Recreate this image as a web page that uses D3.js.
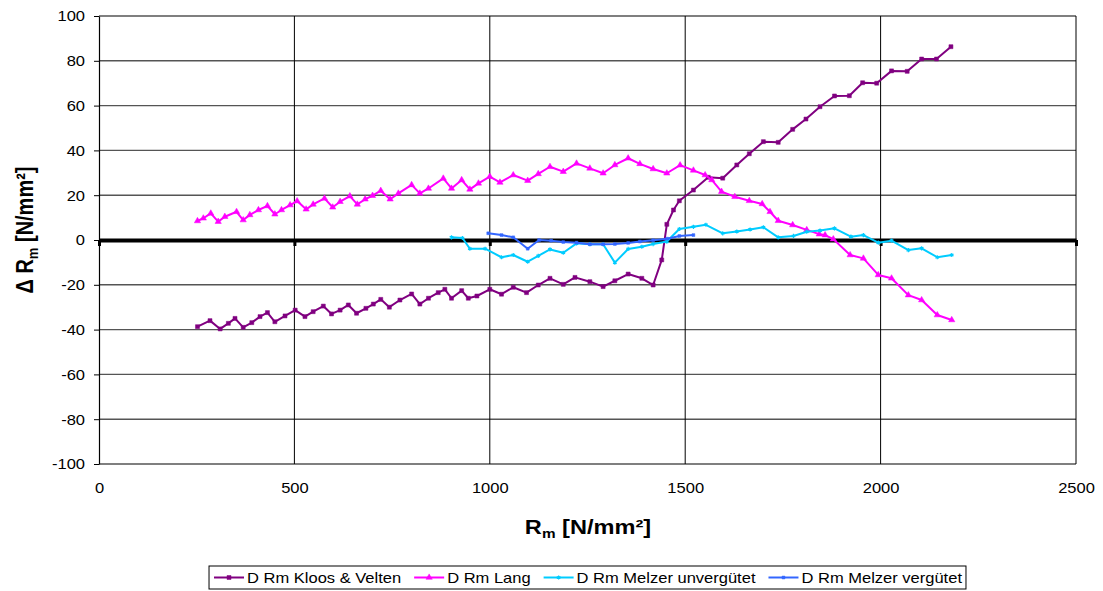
<!DOCTYPE html>
<html>
<head>
<meta charset="utf-8">
<script src="https://cdn.jsdelivr.net/npm/d3@7"></script>
<style>
  body { margin: 0; background: #fff; }
  svg { display: block; font-family: "Liberation Sans", Arial, sans-serif; }
</style>
</head>
<body>
<svg id="chart" width="1103" height="591"></svg>
<script>
// ---- data ----------------------------------------------------------------
const xTickValues = [0, 500, 1000, 1500, 2000, 2500];
const yTickValues = [-100, -80, -60, -40, -20, 0, 20, 40, 60, 80, 100];

const seriesNames = ["D Rm Kloos & Velten", "D Rm Lang", "D Rm Melzer unvergütet", "D Rm Melzer vergütet"];

// Kloos & Velten
const kvRm = [252, 284, 310, 331, 348, 369, 391, 412, 431, 450, 476, 502, 527, 548, 574, 595, 617, 638, 659, 683,
  702, 721, 743, 770, 800, 821, 843, 868, 885, 902, 928, 945, 967, 1000, 1030, 1060, 1094, 1124, 1154, 1188,
  1218, 1256, 1290, 1320, 1354, 1389, 1418, 1440, 1453, 1470, 1485, 1521, 1559, 1596, 1632, 1664, 1700, 1738,
  1775, 1809, 1845, 1882, 1920, 1954, 1990, 2028, 2068, 2105, 2143, 2180];
const kvDelta = [-38.7, -36, -39.7, -37.2, -35, -39, -36.9, -34.2, -32.4, -36.5, -33.9, -31.3, -34.2, -32, -29.5, -33,
  -31.3, -29, -32.7, -30.5, -28.6, -26.5, -30, -26.8, -24.1, -28.6, -26, -23.5, -22, -26, -22.6, -26, -25, -22,
  -24.2, -21.1, -23.5, -20.1, -17.1, -19.8, -16.7, -18.6, -20.8, -18.2, -15.2, -17.1, -20.1, -8.9, 7, 13.4, 17.5,
  22.3, 28, 27.6, 33.5, 38.5, 43.9, 43.6, 49.4, 54, 59.5, 64.3, 64.4, 70.2, 70, 75.5, 75.3, 80.8, 80.8, 86.3];

// Lang
const langRm = [252, 267, 286, 305, 322, 352, 369, 386, 408, 431, 450, 467, 489, 507, 530, 548, 577, 598, 617, 642,
  661, 681, 700, 721, 745, 766, 800, 821, 843, 881, 902, 928, 949, 971, 1000, 1026, 1060, 1097, 1124, 1154, 1188,
  1222, 1256, 1290, 1320, 1354, 1384, 1418, 1453, 1487, 1521, 1551, 1568, 1593, 1627, 1664, 1697, 1717, 1738, 1775,
  1811, 1843, 1858, 1879, 1922, 1956, 1994, 2028, 2071, 2105, 2145, 2182];
const langDelta = [8.5, 9.7, 11.9, 8.2, 10.4, 12.6, 8.9, 11.2, 13.4, 15.2, 11.5, 13.4, 15.6, 17.4, 13.7, 15.9, 18.6,
  14.6, 17.1, 19.6, 15.9, 18.2, 19.8, 22, 18.2, 20.8, 24.6, 20.8, 23, 27.5, 23, 26.8, 22.6, 25.3, 28.3, 25.7, 29,
  26.5, 29.5, 32.7, 30.5, 34.2, 32, 29.8, 33.5, 36.5, 34, 31.7, 29.8, 33.4, 31.1, 29, 26.8, 21.6, 19.3, 17.5, 16.1,
  12.6, 8.6, 6.7, 4.5, 2.6, 2.2, 0.4, -6.7, -8.2, -15.6, -17.1, -24.6, -26.8, -33.5, -35.7];

// Melzer unvergütet
const muRm = [902, 930, 949, 988, 1030, 1060, 1097, 1124, 1154, 1188, 1222, 1256, 1290, 1320, 1354, 1389, 1418, 1453,
  1485, 1521, 1553, 1596, 1632, 1666, 1700, 1738, 1777, 1811, 1845, 1882, 1924, 1956, 1994, 2028, 2071, 2105, 2145, 2182];
const muDelta = [1.2, 0.9, -3.9, -3.9, -7.7, -6.7, -9.7, -7.1, -4.2, -5.7, -1.5, -1.9, -1.9, -10.1, -4, -3, -1.8,
  -0.7, 4.9, 5.9, 6.8, 3, 3.8, 4.7, 5.7, 1.2, 1.8, 3.7, 4.2, 5.2, 1.5, 2.2, -1.2, -0.3, -4.5, -3.7, -7.7, -6.7];

// Melzer vergütet
const mvRm = [996, 1030, 1060, 1097, 1126, 1157, 1188, 1222, 1256, 1290, 1320, 1354, 1384, 1418, 1454, 1485, 1521];
const mvDelta = [3, 2.2, 1.2, -3.9, 0, -0.3, -0.9, -1.2, -1.9, -1.9, -1.8, -1.3, -0.7, -0.1, 0.6, 1.8, 2.2];

// ---- layout ----------------------------------------------------------------
const svg = d3.select("#chart");
const SX = 1.18; // horizontal widening applied to all text
const x = d3.scaleLinear().domain([0, 2500]).range([99, 1076]);
const y = d3.scaleLinear().domain([-100, 100]).range([464, 16]);

const symAst = d3.symbolAsterisk || d3.symbolCross;

const series = [
  { name: seriesNames[0], xs: kvRm, ys: kvDelta, color: "#800080", symbol: d3.symbolSquare, size: 16, fill: true },
  { name: seriesNames[1], xs: langRm, ys: langDelta, color: "#ff00ff", symbol: d3.symbolTriangle, size: 17, fill: true },
  { name: seriesNames[2], xs: muRm, ys: muDelta, color: "#00ccff", symbol: symAst, size: 12, fill: false },
  { name: seriesNames[3], xs: mvRm, ys: mvDelta, color: "#3366ff", symbol: d3.symbolSquare, size: 8, fill: true }
];

// gridlines
const grid = svg.append("g");
grid.selectAll("line.h").data(yTickValues.filter(v => v !== 0)).join("line")
  .attr("x1", x(0)).attr("x2", x(2500))
  .attr("y1", d => y(d)).attr("y2", d => y(d))
  .attr("stroke", "#555").attr("stroke-width", 1.4);
grid.selectAll("line.v").data(xTickValues.filter(v => v !== 0)).join("line")
  .attr("x1", d => x(d)).attr("x2", d => x(d))
  .attr("y1", y(100)).attr("y2", y(-100))
  .attr("stroke", "#000").attr("stroke-width", 1);

// y axis
const yAxis = svg.append("g").attr("transform", `translate(${x(0)},0)`)
  .call(d3.axisLeft(y).tickValues(yTickValues).tickSize(5).tickSizeOuter(0).tickFormat(d => d));
yAxis.select(".domain").attr("stroke", "#000").attr("stroke-width", 1.2);
yAxis.selectAll(".tick line").attr("stroke", "#000");
yAxis.selectAll(".tick text")
  .attr("x", -14 / SX).attr("dy", "0.35em")
  .attr("transform", `scale(${SX},1)`)
  .style("font-size", "14px").style("font-family", "'Liberation Sans', Arial, sans-serif").attr("fill", "#000");

// x labels along the bottom edge
const xLab = svg.append("g").attr("transform", `translate(0,${y(-100)})`)
  .call(d3.axisBottom(x).tickValues(xTickValues).tickSize(0).tickFormat(d => d));
xLab.select(".domain").remove();
xLab.selectAll(".tick text")
  .attr("y", 29).attr("dy", 0)
  .attr("transform", `scale(${SX},1)`)
  .style("font-size", "14px").style("font-family", "'Liberation Sans', Arial, sans-serif").attr("fill", "#000");

// zero line with its tick marks
const zeroAxis = svg.append("g").attr("transform", `translate(0,${y(0)})`)
  .call(d3.axisBottom(x).tickValues(xTickValues).tickSize(6).tickSizeOuter(0).tickFormat(""));
zeroAxis.select(".domain").attr("stroke", "#000").attr("stroke-width", 4);
zeroAxis.selectAll(".tick line").attr("stroke", "#000").attr("stroke-width", 3);

// series
const lineGen = d3.line().x(d => x(d[0])).y(d => y(d[1]));
series.forEach(s => {
  const pts = s.xs.map((v, i) => [v, s.ys[i]]);
  const g = svg.append("g");
  g.append("path").datum(pts).attr("d", lineGen)
    .attr("fill", "none").attr("stroke", s.color).attr("stroke-width", 2)
    .attr("stroke-linejoin", "round");
  g.selectAll("path.m").data(pts).join("path")
    .attr("transform", d => `translate(${x(d[0])},${y(d[1])})`)
    .attr("d", d3.symbol().type(s.symbol).size(s.size))
    .attr("fill", s.fill ? s.color : "none")
    .attr("stroke", s.color).attr("stroke-width", s.fill ? 0.5 : 1.2);
});

// axis titles
const yt = svg.append("text")
  .attr("transform", `translate(33,230) scale(${SX},1) rotate(-90)`)
  .attr("text-anchor", "middle")
  .style("font-size", "20px").style("font-weight", "bold");
yt.append("tspan").text("Δ R");
yt.append("tspan").text("m").style("font-size", "13px").attr("dy", 4);
yt.append("tspan").text(" [N/mm²]").attr("dy", -4);

const xt = svg.append("text")
  .attr("transform", `translate(588,534) scale(${SX},1)`)
  .attr("text-anchor", "middle")
  .style("font-size", "20px").style("font-weight", "bold");
xt.append("tspan").text("R");
xt.append("tspan").text("m").style("font-size", "13px").attr("dy", 4);
xt.append("tspan").text(" [N/mm²]").attr("dy", -4);

// legend
const legend = svg.append("g");
const legBox = legend.append("rect").attr("fill", "#fff").attr("stroke", "#000").attr("stroke-width", 1);
const legY = 577.5;
let cx = 0;
const items = [];
series.forEach(s => {
  const it = legend.append("g");
  it.append("line").attr("x1", cx).attr("x2", cx + 30).attr("y1", legY).attr("y2", legY)
    .attr("stroke", s.color).attr("stroke-width", 2);
  it.append("path").attr("transform", `translate(${cx + 15},${legY})`)
    .attr("d", d3.symbol().type(s.symbol).size(s.size))
    .attr("fill", s.fill ? s.color : "none").attr("stroke", s.color).attr("stroke-width", s.fill ? 0.5 : 1.2);
  const t = it.append("text")
    .attr("transform", `translate(${cx + 33},${legY + 5}) scale(${SX},1)`)
    .style("font-size", "14px").text(s.name);
  const w = t.node().getComputedTextLength() * SX;
  cx = cx + 33 + w + 13;
  items.push(it);
});
const total = cx - 13;
const legLeft = 588 - total / 2;
items.forEach(it => it.attr("transform", `translate(${legLeft},0)`));
legBox.attr("x", legLeft - 5).attr("y", 566).attr("width", total + 9).attr("height", 23);
</script>
</body>
</html>
